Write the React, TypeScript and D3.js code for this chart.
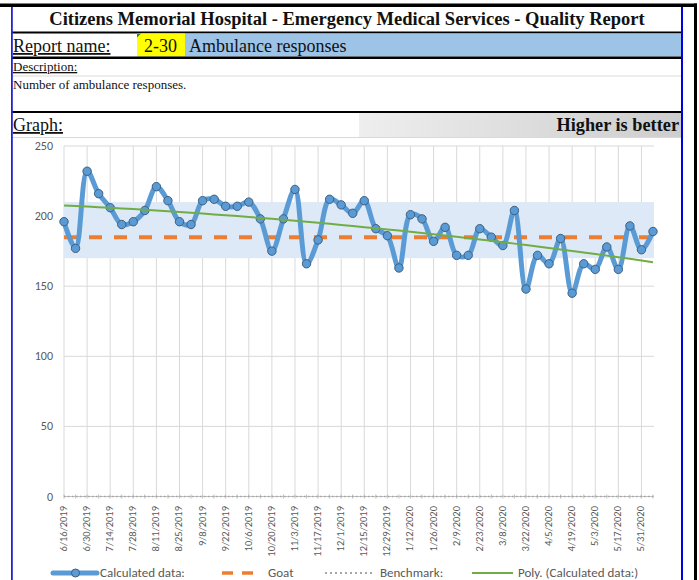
import React from "react";
import * as d3 from "d3";

const dates: string[] = [
  "6/16/2019","6/23/2019","6/30/2019","7/7/2019","7/14/2019","7/21/2019","7/28/2019","8/4/2019","8/11/2019","8/18/2019","8/25/2019",
  "9/1/2019","9/8/2019","9/15/2019","9/22/2019","9/29/2019","10/6/2019","10/13/2019","10/20/2019","10/27/2019","11/3/2019","11/10/2019",
  "11/17/2019","11/24/2019","12/1/2019","12/8/2019","12/15/2019","12/22/2019","12/29/2019","1/5/2020","1/12/2020","1/19/2020","1/26/2020",
  "2/2/2020","2/9/2020","2/16/2020","2/23/2020","3/1/2020","3/8/2020","3/15/2020","3/22/2020","3/29/2020","4/5/2020","4/12/2020",
  "4/19/2020","4/26/2020","5/3/2020","5/10/2020","5/17/2020","5/24/2020","5/31/2020","6/7/2020"
];
const responses: number[] = [
  196,177,232,216,206,194,196,204,221,211,196,194,211,212,207,207,210,198,175,198,219,166,183,212,208,202,
  211,191,186,163,201,198,182,192,172,172,191,185,179,204,148,172,166,184,145,166,162,178,162,193,176,189
];
const goal = 185;
const benchmark = 0;
const bandLow = 170;
const bandHigh = 210;
const yTicks: number[] = [0, 50, 100, 150, 200, 250];

// quadratic least squares trend (Excel "Poly." order 2)
function polyFit(ys: number[]) {
  const s = [0, 0, 0, 0, 0];
  const t = [0, 0, 0];
  ys.forEach((yv, i) => {
    const xv = i + 1;
    for (let k = 0; k < 5; k++) s[k] += Math.pow(xv, k);
    for (let k = 0; k < 3; k++) t[k] += yv * Math.pow(xv, k);
  });
  const A = [
    [s[0], s[1], s[2], t[0]],
    [s[1], s[2], s[3], t[1]],
    [s[2], s[3], s[4], t[2]],
  ];
  for (let c = 0; c < 3; c++) {
    for (let r = c + 1; r < 3; r++) {
      const f = A[r][c] / A[c][c];
      for (let k = c; k < 4; k++) A[r][k] -= f * A[c][k];
    }
  }
  const b = [0, 0, 0];
  for (let r = 2; r >= 0; r--) {
    let v = A[r][3];
    for (let k = r + 1; k < 3; k++) v -= A[r][k] * b[k];
    b[r] = v / A[r][r];
  }
  return ys.map((_, i) => b[0] + b[1] * (i + 1) + b[2] * (i + 1) * (i + 1));
}

const SERIF = "'Liberation Serif', 'Times New Roman', serif";
const SANS = "Carlito, 'Liberation Sans Narrow', 'DejaVu Sans Condensed', 'Open Sans', sans-serif";

export default function App() {
  const W = 699, H = 580;
  const idx = responses.map((_, i) => i);
  const x = d3.scalePoint<number>().domain(idx).range([64, 653]);
  const y = d3.scaleLinear().domain([0, 250]).range([496.5, 146]);
  const trend = polyFit(responses);

  const line = d3.line<number>().x((_, i) => x(i)!).y((d) => y(d)).curve(d3.curveCatmullRom.alpha(0.5));
  const trendLine = d3.line<number>().x((_, i) => x(i)!).y((d) => y(d));

  const x0 = x(0)!, x1 = x(idx.length - 1)!;
  const plotRight = 654;

  return (
    <div style={{ position: "absolute", left: 0, top: 0 }}>
      <svg width={W} height={H} style={{ display: "block", background: "#fff" }}>
        <defs>
          <linearGradient id="hdrGrad" x1="0" y1="0" x2="1" y2="0">
            <stop offset="0" stopColor="#eeeeee" />
            <stop offset="1" stopColor="#cdcdcd" />
          </linearGradient>
        </defs>
        <rect x={0} y={0} width={W} height={H} fill="#fff" />

        {/* header */}
        <rect x={0} y={3.5} width={697} height={3.5} fill="#000" />
        <text x={347} y={25} textAnchor="middle" fontFamily={SERIF} fontWeight="bold" fontSize={18.5} fill="#111">
          Citizens Memorial Hospital - Emergency Medical Services - Quality Report
        </text>
        <rect x={12} y={31.5} width={670} height={2} fill="#000" />
        <rect x={137} y={33.5} width={545} height={23} fill="#9dc3e6" />
        <rect x={137} y={33.5} width={48} height={23} fill="#ffff00" />
        <path d="M137,33.5 L141,33.5 L137,37.5 Z" fill="#1d8a3a" />
        <text x={13} y={52} fontFamily={SERIF} fontSize={18} fill="#111" textDecoration="underline">Report name:</text>
        <text x={144} y={52} fontFamily={SERIF} fontSize={18} fill="#111">2-30</text>
        <text x={189} y={52} fontFamily={SERIF} fontSize={18} fill="#111">Ambulance responses</text>
        <rect x={12} y={56.5} width={670} height={2.5} fill="#000" />
        <text x={13} y={71} fontFamily={SERIF} fontSize={13} fill="#111" textDecoration="underline">Description:</text>
        <rect x={12} y={75.5} width={670} height={1} fill="#d9d9d9" />
        <text x={13} y={89} fontFamily={SERIF} fontSize={13} fill="#111">Number of ambulance responses.</text>
        <rect x={12} y={111} width={670} height={2} fill="#000" />
        <rect x={359} y={113} width={323} height={24} fill="url(#hdrGrad)" />
        <text x={13} y={131} fontFamily={SERIF} fontSize={18} fill="#111" textDecoration="underline">Graph:</text>
        <text x={679} y={131} textAnchor="end" fontFamily={SERIF} fontWeight="bold" fontSize={18.3} fill="#111">Higher is better</text>
        <rect x={12} y={137} width={670} height={1} fill="#d9d9d9" />

        {/* frame */}
        <rect x={11} y={7} width={1.8} height={H - 7} fill="#2323d8" />
        <rect x={681} y={7} width={2} height={H - 7} fill="#0000e0" />
        <rect x={694} y={3.5} width={3} height={H - 3.5} fill="#000" />

        {/* gridlines */}
        {yTicks.map((t) => (
          <line key={"h" + t} x1={x0} x2={plotRight} y1={y(t)} y2={y(t)} stroke="#d9d9d9" strokeWidth={1} />
        ))}
        {idx.filter((i) => i % 2 === 0).map((i) => (
          <line key={"v" + i} x1={x(i)} x2={x(i)} y1={y(250)} y2={y(0)} stroke="#d9d9d9" strokeWidth={1} />
        ))}

        {/* band */}
        <rect x={x0} width={plotRight - x0} y={y(bandHigh)} height={y(bandLow) - y(bandHigh)} fill="#dde9f6" />

        {/* axis at 0 with minor ticks */}
        <line x1={x0} x2={plotRight} y1={y(0)} y2={y(0)} stroke="#bfbfbf" strokeWidth={1} />
        {idx.map((i) => (
          <line key={"t" + i} x1={x(i)} x2={x(i)} y1={y(0) - 2} y2={y(0) + 2} stroke="#bfbfbf" strokeWidth={1} />
        ))}

        {/* goal */}
        <line x1={x0} x2={x1} y1={y(goal)} y2={y(goal)} stroke="#ed7d31" strokeWidth={4} strokeDasharray="13,12" />
        {/* benchmark */}
        <line x1={x0} x2={x1} y1={y(benchmark)} y2={y(benchmark)} stroke="#a6a6a6" strokeWidth={1.5} strokeDasharray="1.5,2.5" />

        {/* data */}
        <path d={line(responses) || ""} fill="none" stroke="#5b9bd5" strokeWidth={5} strokeLinejoin="round" strokeLinecap="round" />
        {responses.map((v, i) => (
          <circle key={"p" + i} cx={x(i)} cy={y(v)} r={4.2} fill="#5b9bd5" stroke="#3d5f80" strokeWidth={1} />
        ))}

        {/* trend */}
        <path d={trendLine(trend) || ""} fill="none" stroke="#70ad47" strokeWidth={2} />

        {/* y labels */}
        {yTicks.map((t) => (
          <text key={"yl" + t} x={53} y={y(t) + 4} textAnchor="end" fontFamily={SANS} fontSize={12} fill="#595959">{t}</text>
        ))}

        {/* x labels */}
        {idx.filter((i) => i % 2 === 0).map((i) => (
          <text key={"xl" + i} transform={`translate(${x(i)! + 3},${506}) rotate(-90)`} textAnchor="end" fontFamily={SANS} fontSize={10.5} fill="#595959">
            {dates[i]}
          </text>
        ))}

        {/* legend */}
        <g fontFamily={SANS} fontSize={13} fill="#595959">
          <line x1={53} x2={97} y1={573} y2={573} stroke="#5b9bd5" strokeWidth={5} strokeLinecap="round" />
          <circle cx={75.5} cy={573} r={4} fill="#5b9bd5" stroke="#3d5f80" strokeWidth={1} />
          <text x={100} y={576.5}>Calculated data:</text>
          <line x1={222} x2={260} y1={573} y2={573} stroke="#ed7d31" strokeWidth={3.5} strokeDasharray="11,9" />
          <text x={268} y={576.5}>Goat</text>
          <line x1={325} x2={373} y1={573} y2={573} stroke="#a6a6a6" strokeWidth={2} strokeDasharray="2,3" />
          <text x={380} y={576.5}>Benchmark:</text>
          <line x1={472} x2={513} y1={573} y2={573} stroke="#70ad47" strokeWidth={2} />
          <text x={518} y={576.5}>Poly. (Calculated data:)</text>
        </g>
      </svg>
    </div>
  );
}
